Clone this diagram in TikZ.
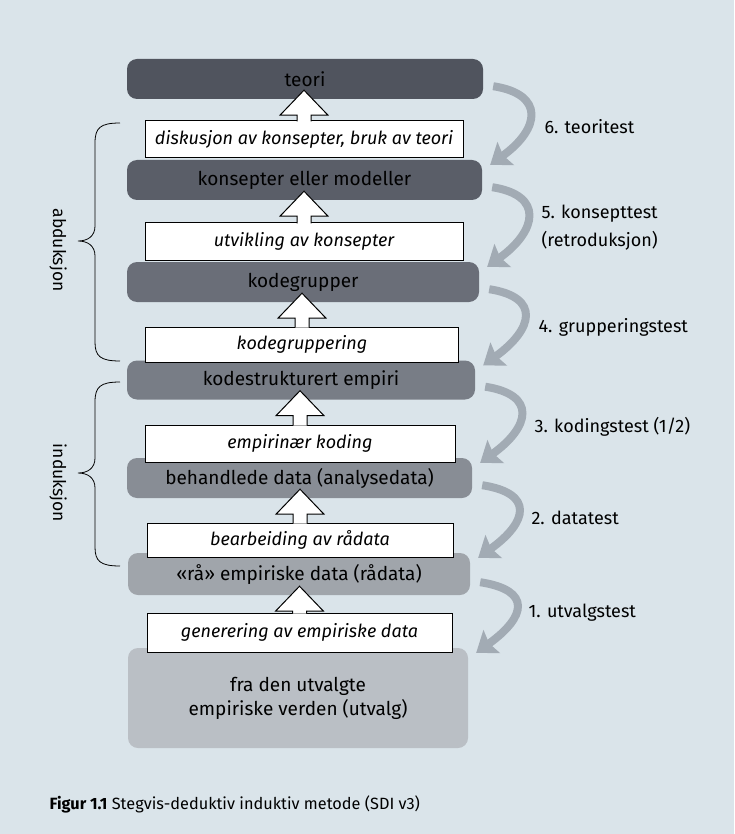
\documentclass[tikz,border=0pt]{standalone}
\usepackage{fontspec}
\setmainfont{Fira Sans}
\usetikzlibrary{calc, arrows.meta}

\definecolor{paper}{RGB}{218,228,234}
\definecolor{testgrey}{RGB}{162,171,180}
\definecolor{lvlsix}{RGB}{80,84,94}
\definecolor{lvlfive}{RGB}{90,94,104}
\definecolor{lvlfour}{RGB}{106,110,120}
\definecolor{lvlthree}{RGB}{120,125,134}
\definecolor{lvltwo}{RGB}{136,141,149}
\definecolor{lvlone}{RGB}{160,165,171}
\definecolor{lvlzero}{RGB}{186,191,197}

\begin{document}
\begin{tikzpicture}[x=1pt, y=-1pt,
        level/.style={rounded corners=10pt, minimum height=40pt, inner sep=0pt, align=center, font=\fontsize{19}{24}\selectfont},
        stepbox/.style={draw, line width=1pt, fill=white, minimum height=37pt, inner sep=0pt, font=\itshape\fontsize{18}{21}\selectfont},
        hollow/.style={draw, line width=1pt, fill=white, line join=miter},
        testarrow/.style={line width=8pt, draw=testgrey, -{Stealth[length=19pt, width=28pt, inset=3pt]}},
        testlabel/.style={anchor=west, align=left, font=\fontsize{18}{28}\selectfont},
        side/.style={rotate=-90, font=\fontsize{17.5}{20}\selectfont}]
        \fill[paper] (0,0) rectangle (734,834);

        % levels
        \node[level, fill=lvlsix, minimum width=356pt] (teori) at (305,79) {teori};
        \node[level, fill=lvlfive, minimum width=355pt] (konsepter) at (304.5,180) {konsepter eller modeller};
        \node[level, fill=lvlfour, minimum width=352pt] (kodegrupper) at (303,282) {kodegrupper};
        \node[level, fill=lvlthree, minimum width=348pt, minimum height=39pt] (kodestruktur) at (301,380) {kodestrukturert empiri};
        \node[level, fill=lvltwo, minimum width=345pt] (behandlede) at (299.5,478) {behandlede data (analysedata)};
        \node[level, fill=lvlone, minimum width=342pt, minimum height=42pt] (radata) at (299,574) {«rå» empiriske data (rådata)};
        \node[level, fill=lvlzero, minimum width=340pt, minimum height=100pt] (verden) at (298,698) {fra den utvalgte\\empiriske verden (utvalg)};

        % steps
        \node[stepbox, minimum width=318pt] (diskusjon) at (304,139.5) {diskusjon av konsepter, bruk av teori};
        \node[stepbox, minimum width=318pt] (utvikling) at (304,241.5) {utvikling av konsepter};
        \node[stepbox, minimum width=313pt, minimum height=35pt] (kodegruppering) at (302,344.5) {kodegruppering};
        \node[stepbox, minimum width=310pt] (empirinaer) at (300,443.5) {empirinær koding};
        \node[stepbox, minimum width=306pt, minimum height=34pt] (bearbeiding) at (300,540) {bearbeiding av rådata};
        \node[stepbox, minimum width=305pt, minimum height=39pt] (generering) at (299.5,632.5) {generering av empiriske data};

        \foreach \w/\g in {diskusjon/teori, utvikling/konsepter, kodegruppering/kodegrupper, empirinaer/kodestruktur, bearbeiding/behandlede, generering/radata}
            \draw[hollow] ($(\w.north)+(-7,1)$) -- ($(\w.north |- \g.south)+(-7,16)$) -- ++(-17,0)
                -- ($(\w.north |- \g.south)+(0,-9)$) -- ($(\w.north |- \g.south)+(24,16)$) -- ++(-17,0)
                -- ($(\w.north)+(7,1)$);

        % tests
        \foreach \a/\b in {teori/konsepter, konsepter/kodegrupper, kodegrupper/kodestruktur, kodestruktur/behandlede, behandlede/radata, radata/verden}
            \draw[testarrow] ($(\a.south east)+(10,-13)$) .. controls +(52,8) and +(50,-36) .. ($(\b.north east)+(8,5)$);

        \node[testlabel] (t6) at (541,127) {6. teoritest};
        \node[testlabel] (t5) at (538,228) {5. konsepttest\\(retroduksjon)};
        \node[testlabel] (t4) at (535,327) {4. grupperingstest};
        \node[testlabel] (t3) at (531,427) {3. kodingstest (1/2)};
        \node[testlabel] (t2) at (528,518) {2. datatest};
        \node[testlabel] (t1) at (525,613) {1. utvalgstest};

        % braces
        \draw[line width=0.8pt] (120,123) .. controls (100,123) and (95,128) .. (95,143) -- (95,226)
            .. controls (95,236) and (88,241) .. (78,241) .. controls (88,241) and (95,246) .. (95,256)
            -- (95,342) .. controls (95,356) and (100,361) .. (120,361);
        \node[side] (abduksjon) at (58,250) {abduksjon};
        \draw[line width=0.8pt] (120,382) .. controls (100,382) and (95,387) .. (95,402) -- (95,458)
            .. controls (95,468) and (88,473) .. (78,473) .. controls (88,473) and (95,478) .. (95,488)
            -- (95,547) .. controls (95,561) and (100,566) .. (120,566);
        \node[side] (induksjon) at (58,483) {induksjon};

        \node[anchor=west, font=\fontsize{16.3}{19}\selectfont] (caption) at (46,804) {\textbf{Figur 1.1} Stegvis-deduktiv induktiv metode (SDI v3)};
    \end{tikzpicture}
\end{document}
